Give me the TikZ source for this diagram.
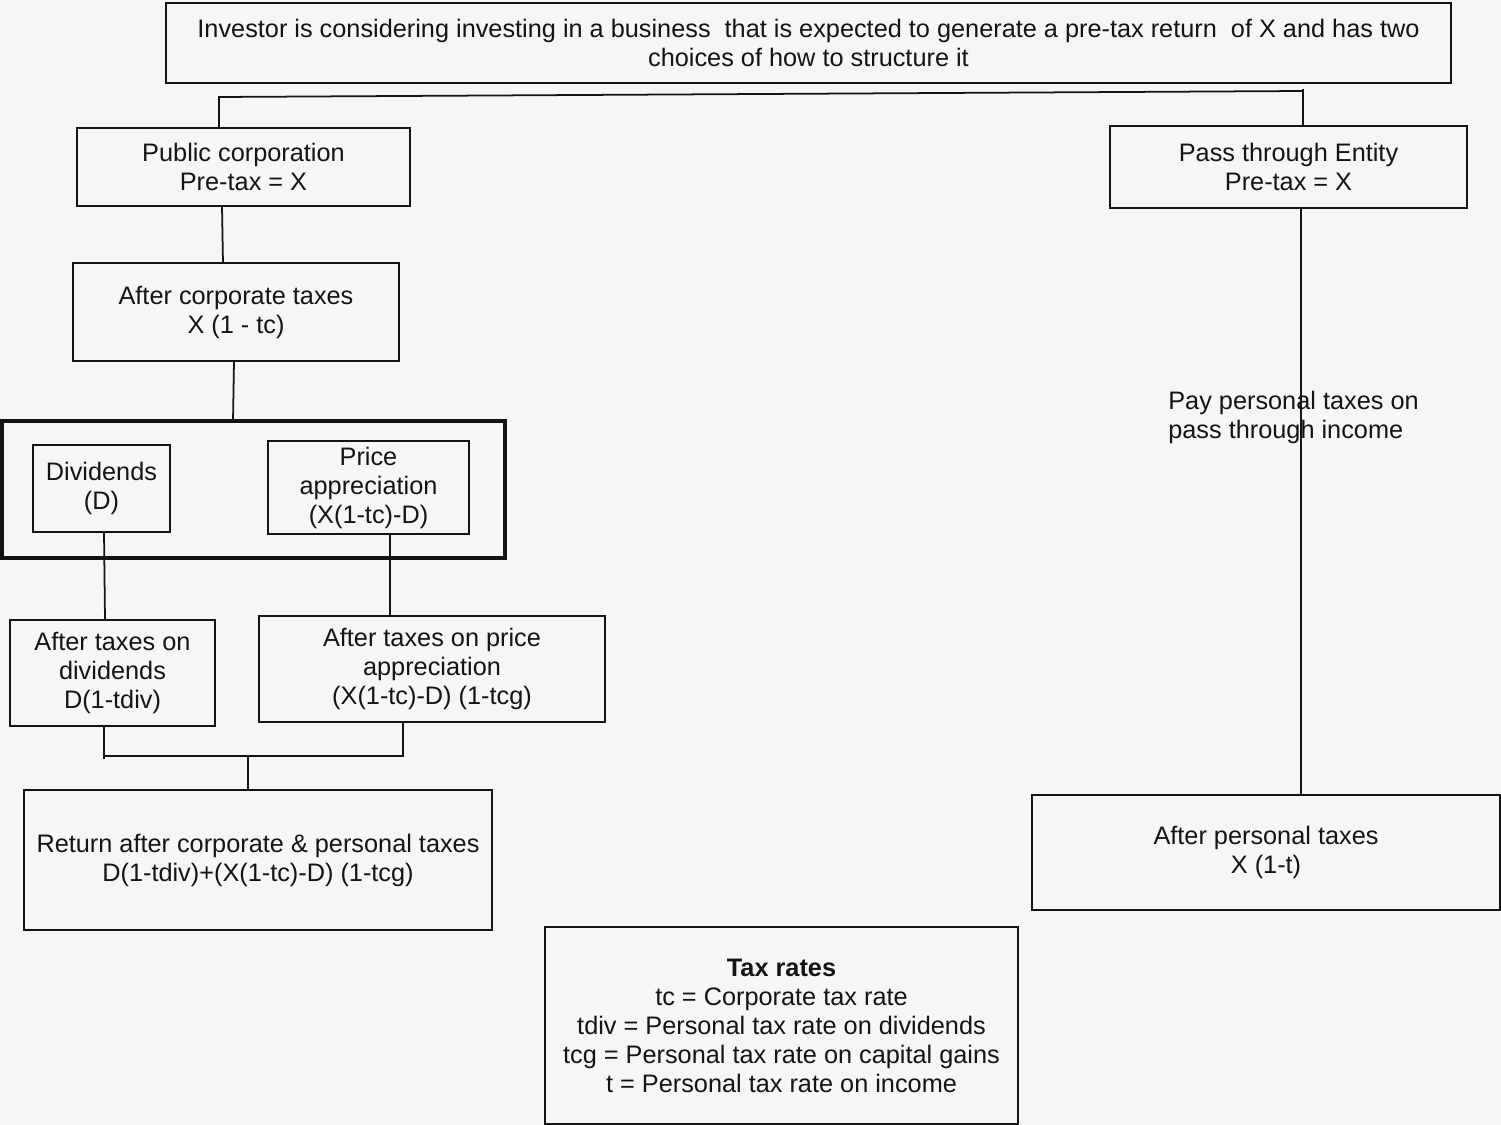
\documentclass[tikz,border=0pt]{standalone}
\usepackage{fontspec}
\setmainfont{Liberation Sans}
\definecolor{bg}{RGB}{247,246,245}
\definecolor{ink}{RGB}{20,20,20}
\begin{document}
\begin{tikzpicture}[x=0.02cm,y=-0.02cm,
  font=\fontsize{14.4}{16.5}\selectfont,
  box/.style={draw=ink,line width=1pt,align=center,inner sep=0pt,text=ink},
  thickbox/.style={draw=ink,line width=2.3pt,inner sep=0pt},
  conn/.style={draw=ink,line width=1pt}]
\fill[bg] (0,0) rectangle (1501,1125);
\useasboundingbox (0,0) rectangle (1501,1125);
\node[box,minimum width={1285*0.02cm},minimum height={80*0.02cm}] (top) at (808.5,43)
  {Investor is considering investing in a business\ \ that is expected to generate a pre-tax return\ \ of X and has two\\choices of how to structure it};
\node[box,minimum width={333*0.02cm},minimum height={78*0.02cm}] (pub) at (243.5,167)
  {Public corporation\\Pre-tax = X};
\node[box,minimum width={357*0.02cm},minimum height={82*0.02cm}] (pass) at (1288.5,167)
  {Pass through Entity\\Pre-tax = X};
\node[box,minimum width={326*0.02cm},minimum height={98*0.02cm}] (actax) at (236,312)
  {After corporate taxes\\X (1 - tc)};
\node[thickbox,minimum width={503*0.02cm},minimum height={137*0.02cm}] (group) at (253.5,489.5) {};
\node[box,minimum width={137*0.02cm},minimum height={87*0.02cm}] (div) at (101.5,488.5)
  {Dividends\\(D)};
\node[box,minimum width={201*0.02cm},minimum height={93*0.02cm}] (price) at (368.5,487.5)
  {Price\\appreciation\\(X(1-tc)-D)};
\node[box,minimum width={205*0.02cm},minimum height={106*0.02cm}] (atd) at (112.5,673)
  {After taxes on\\dividends\\D(1-tdiv)};
\node[box,minimum width={346*0.02cm},minimum height={106*0.02cm}] (atp) at (432,669)
  {After taxes on price\\appreciation\\(X(1-tc)-D) (1-tcg)};
\node[box,minimum width={468*0.02cm},minimum height={140*0.02cm}] (ret) at (258,860)
  {Return after corporate \& personal taxes\\D(1-tdiv)+(X(1-tc)-D) (1-tcg)};
\node[box,minimum width={468*0.02cm},minimum height={115*0.02cm}] (apt) at (1266,852.5)
  {After personal taxes\\X (1-t)};
\node[box,minimum width={473*0.02cm},minimum height={197*0.02cm}] (rates) at (781.5,1025.5)
  {\textbf{Tax rates}\\tc = Corporate tax rate\\tdiv = Personal tax rate on dividends\\tcg = Personal tax rate on capital gains\\t = Personal tax rate on income};
% top split
\coordinate (jl) at (219,97);
\coordinate (jr) at (1303,91);
\coordinate (jrt) at (1303,89);
\draw[conn] (jl |- pub.north) -- (jl) -- (jr);
\draw[conn] (jrt) -- (jrt |- pass.north);
% left chain
\draw[conn] (222,206) coordinate (a1) -- (223,263) coordinate (a2);
\draw[conn] (234,361) coordinate (b1) -- (233,421) coordinate (b2);
\draw[conn] (104,532) coordinate (c1) -- (105,620) coordinate (c2);
\draw[conn] (390,534) coordinate (d1) -- (390,616) coordinate (d2);
% bracket
\coordinate (e1) at (104,726);
\coordinate (e2) at (104,759);
\coordinate (e3) at (403,722);
\coordinate (e4) at (403,756);
\coordinate (em) at (248,756);
\draw[conn] (e1) -- (e2);
\draw[conn] (e3) -- (e4) -- (e4 -| e1);
\draw[conn] (em) -- (em |- ret.north);
% pass-through chain
\coordinate (p1) at (1301,208);
\draw[conn] (p1) -- (p1 |- apt.north);
\node[align=left,anchor=west,inner sep=0pt,text=ink] (paylbl) at (1168,417)
  {Pay personal taxes on\\pass through income};
\end{tikzpicture}
\end{document}
